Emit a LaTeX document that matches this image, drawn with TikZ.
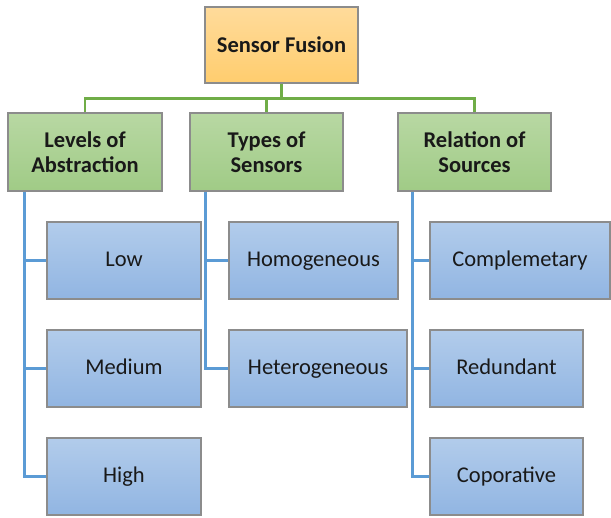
\documentclass[tikz,border=0pt]{standalone}
\usepackage{fontspec}
\setmainfont{Carlito}
\usetikzlibrary{positioning,calc}
\definecolor{orTop}{RGB}{255,219,155}
\definecolor{orBot}{RGB}{255,205,110}
\definecolor{grTop}{RGB}{184,216,163}
\definecolor{grBot}{RGB}{160,203,134}
\definecolor{blTop}{RGB}{178,204,235}
\definecolor{blBot}{RGB}{145,181,226}
\definecolor{grLine}{RGB}{112,173,71}
\definecolor{blLine}{RGB}{91,155,213}
\definecolor{txt}{RGB}{25,25,25}
\definecolor{edge}{RGB}{140,140,140}
\tikzset{
  box/.style={draw=edge, line width=1.2pt, inner sep=0pt, align=center,
    text=txt, font=\fontsize{22.5}{25}\selectfont, minimum height=77pt},
  rootbox/.style={box, top color=orTop, bottom color=orBot, font=\fontsize{22.5}{25}\selectfont\bfseries},
  catbox/.style={box, top color=grTop, bottom color=grBot, font=\fontsize{22.5}{25}\selectfont\bfseries},
  leafbox/.style={box, top color=blTop, bottom color=blBot, text height=16.5pt, text depth=3.5pt},
  gline/.style={draw=grLine, line width=2.6pt},
  bline/.style={draw=blLine, line width=2.6pt}
}
\begin{document}
\begin{tikzpicture}[x=1pt,y=-1pt]
\useasboundingbox (0,0) rectangle (611,518);
\node[rootbox, minimum width=153pt, minimum height=76pt, text height=17.5pt, text depth=2.5pt] (root) at (281.5,45) {Sensor Fusion};
\node[catbox, minimum width=154pt, minimum height=78pt] (lvl) at (85,152) {Levels of\\Abstraction};
\node[catbox, minimum width=153pt, minimum height=78pt] (typ) at (266.5,152) {Types of\\Sensors};
\node[catbox, minimum width=153pt, minimum height=78pt] (rel) at (474.5,152) {Relation of\\Sources};
\node[leafbox, minimum width=154pt] (low) at (124,260.5) {Low};
\node[leafbox, minimum width=154pt] (med) at (124,368.5) {Medium};
\node[leafbox, minimum width=154pt] (high) at (124,476.5) {High};
\node[leafbox, minimum width=169pt] (homo) at (313.5,260.5) {Homogeneous};
\node[leafbox, minimum width=178pt] (hetero) at (318,368.5) {Heterogeneous};
\node[leafbox, minimum width=180pt] (comp) at (520,260.5) {Complemetary};
\node[leafbox, minimum width=153pt] (red) at (506.5,368.5) {Redundant};
\node[leafbox, minimum width=153pt] (coop) at (506.5,476.5) {Coporative};
\coordinate (bus) at ($(root.south)+(0,15)$);
\draw[gline] (root.south) -- (bus);
\draw[gline] (lvl.north) |- (bus);
\draw[gline] (typ.north) |- (bus);
\draw[gline] (rel.north) |- (bus);
\coordinate (sA) at ($(lvl.south west)+(17,0)$);
\coordinate (sB) at ($(typ.south west)+(16,0)$);
\coordinate (sC) at ($(rel.south west)+(15,0)$);
\draw[bline] (sA) |- (low.west);
\draw[bline] (sA) |- (med.west);
\draw[bline] (sA) |- (high.west);
\draw[bline] (sB) |- (homo.west);
\draw[bline] (sB) |- (hetero.west);
\draw[bline] (sC) |- (comp.west);
\draw[bline] (sC) |- (red.west);
\draw[bline] (sC) |- (coop.west);
\end{tikzpicture}
\end{document}
